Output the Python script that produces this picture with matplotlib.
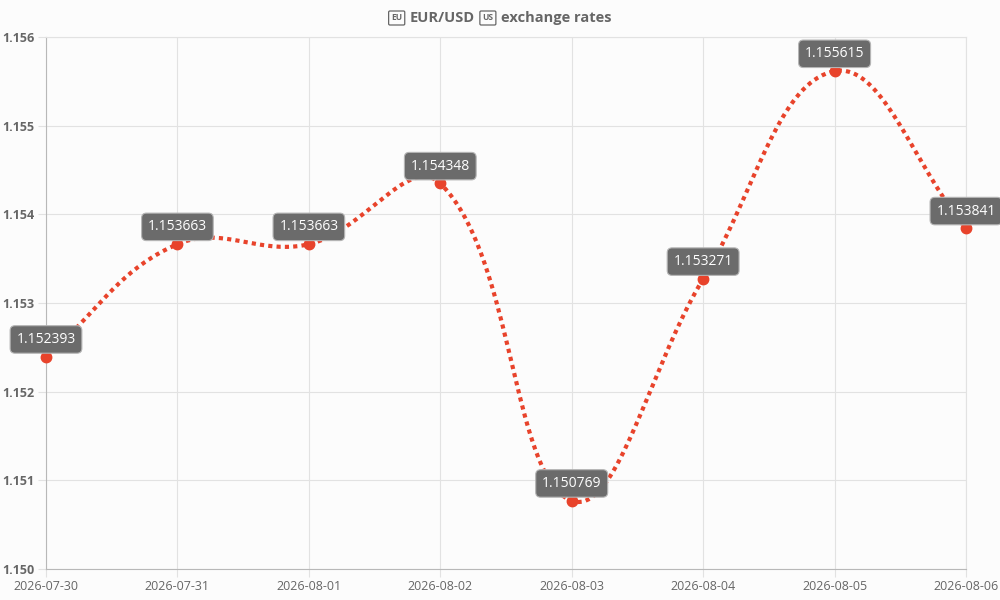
import numpy as np
import matplotlib
matplotlib.use("Agg")
import matplotlib.pyplot as plt

# ======================
# Data
# ======================

dates = [
    "2026-07-30", "2026-07-31", "2026-08-01", "2026-08-02",
    "2026-08-03", "2026-08-04", "2026-08-05", "2026-08-06",
]
rates = [
    1.152393, 1.153663, 1.153663, 1.154348,
    1.150769, 1.153271, 1.155615, 1.153841,
]
y_ticks = [1.150, 1.151, 1.152, 1.153, 1.154, 1.155, 1.156]

# title pieces: (text, is_flag)
title_parts = [
    ("EU", True),
    ("EUR/USD", False),
    ("US", True),
    ("exchange rates", False),
]

line_color = "#e8432b"
text_color = "#666666"
grid_color = "#e2e2e2"

plt.rcParams["font.family"] = ["Open Sans", "DejaVu Sans"]


# ======================
# Smooth curve (bezier, tension 0.4)
# ======================

def spline_path(xs, ys, sx, sy, tension=0.4, steps=40):
    px = np.asarray(xs, float) * sx
    py = np.asarray(ys, float) * sy
    n = len(px)
    cp_prev = []
    cp_next = []
    for i in range(n):
        p0 = (px[max(i - 1, 0)], py[max(i - 1, 0)])
        p1 = (px[i], py[i])
        p2 = (px[min(i + 1, n - 1)], py[min(i + 1, n - 1)])
        d01 = np.hypot(p1[0] - p0[0], p1[1] - p0[1])
        d12 = np.hypot(p2[0] - p1[0], p2[1] - p1[1])
        tot = d01 + d12
        s01 = d01 / tot if tot else 0
        s12 = d12 / tot if tot else 0
        fa = tension * s01
        fb = tension * s12
        cp_prev.append((p1[0] - fa * (p2[0] - p0[0]), p1[1] - fa * (p2[1] - p0[1])))
        cp_next.append((p1[0] + fb * (p2[0] - p0[0]), p1[1] + fb * (p2[1] - p0[1])))
    out_x, out_y = [], []
    t = np.linspace(0, 1, steps)
    for i in range(n - 1):
        a = (px[i], py[i])
        b = cp_next[i]
        c = cp_prev[i + 1]
        d = (px[i + 1], py[i + 1])
        bx = (1 - t) ** 3 * a[0] + 3 * (1 - t) ** 2 * t * b[0] + 3 * (1 - t) * t ** 2 * c[0] + t ** 3 * d[0]
        by = (1 - t) ** 3 * a[1] + 3 * (1 - t) ** 2 * t * b[1] + 3 * (1 - t) * t ** 2 * c[1] + t ** 3 * d[1]
        out_x.extend(bx)
        out_y.extend(by)
    return np.array(out_x) / sx, np.array(out_y) / sy


# ======================
# Plot
# ======================

fig = plt.figure(figsize=(10, 6), dpi=100, facecolor="#fcfcfc")
ax = fig.add_axes([0.046, 0.0517, 0.92, 0.8866])
ax.set_facecolor("#fcfcfc")

x = np.arange(len(dates))

# scale to approx pixel units so the curve shape follows the screen
sx = 920 / (len(dates) - 1)
sy = 532 / (y_ticks[-1] - y_ticks[0])
cx, cy = spline_path(x, rates, sx, sy)

ax.plot(
    cx,
    cy,
    color=line_color,
    linewidth=3,
    linestyle=(0, (1, 1)),
    solid_capstyle="butt",
    zorder=3,
)

ax.plot(
    x,
    rates,
    linestyle="none",
    marker="o",
    markersize=7.5,
    color=line_color,
    zorder=4,
    clip_on=False,
)

for xi, r in zip(x, rates):
    ax.annotate(
        f"{r:.6f}",
        (xi, r),
        textcoords="offset points",
        xytext=(0, 12.5),
        ha="center",
        va="center",
        fontsize=10,
        color="white",
        bbox=dict(
            boxstyle="round,pad=0.45,rounding_size=0.35",
            facecolor="#6b6b6b",
            edgecolor="#b5b5b5",
            linewidth=0.8,
        ),
        annotation_clip=False,
        zorder=5,
    )

ax.set_xlim(0, len(dates) - 1)
ax.set_ylim(y_ticks[0], y_ticks[-1])

ax.set_xticks(x)
ax.set_xticklabels(dates)
ax.set_yticks(y_ticks)
ax.set_yticklabels([f"{v:.3f}" for v in y_ticks])

ax.grid(True, color=grid_color, linewidth=0.8, zorder=0)
ax.set_axisbelow(True)

for lab in ax.get_yticklabels():
    lab.set_fontweight("bold")

ax.tick_params(
    axis="both",
    colors=grid_color,
    labelcolor=text_color,
    labelsize=9,
    length=6,
    width=0.8,
    pad=2,
)

for side in ["top", "right"]:
    ax.spines[side].set_color(grid_color)
    ax.spines[side].set_linewidth(0.8)
for side in ["left", "bottom"]:
    ax.spines[side].set_color("#b8b8b8")
    ax.spines[side].set_linewidth(0.8)


# ======================
# Title (flags drawn as boxed letters)
# ======================

flag_pad_px = 2.5   # box padding around flag letters
gap_px = 5          # gap between pieces

pieces = []
for txt, is_flag in title_parts:
    if is_flag:
        t = fig.text(
            0, 0.97, txt,
            ha="left", va="center",
            fontsize=6, fontweight="bold", color=text_color,
            bbox=dict(
                boxstyle="round,pad=0.3,rounding_size=0.15",
                facecolor="none",
                edgecolor=text_color,
                linewidth=0.9,
            ),
        )
    else:
        t = fig.text(
            0, 0.97, txt,
            ha="left", va="center",
            fontsize=10.5, fontweight="bold", color=text_color,
        )
    pieces.append((t, is_flag))

fig.canvas.draw()
renderer = fig.canvas.get_renderer()

widths = []
for t, is_flag in pieces:
    w = t.get_window_extent(renderer).width
    off = flag_pad_px if is_flag else 0
    widths.append((w + 2 * off, off))

total = sum(w for w, _ in widths) + gap_px * (len(widths) - 1)
cur = (fig.bbox.width - total) / 2
for (t, is_flag), (w, off) in zip(pieces, widths):
    t.set_x((cur + off) / fig.bbox.width)
    cur += w + gap_px

fig.savefig("out.png", dpi=100, facecolor=fig.get_facecolor())
